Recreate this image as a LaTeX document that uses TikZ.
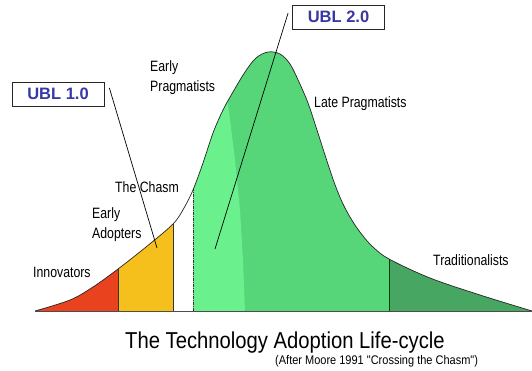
\documentclass[tikz,border=0pt]{standalone}
\usepackage{xcolor}
\usepackage{fontspec}
\setmainfont{Liberation Sans}
\newfontfamily\chartfont{Liberation Sans}[FakeStretch=0.82]
\newfontfamily\titlefont{Liberation Sans}[FakeStretch=0.88]
\usepackage{tikz}
\usetikzlibrary{calc}
\usetikzlibrary{positioning}

\definecolor{innored}{HTML}{E8421E}
\definecolor{adoptyellow}{HTML}{F6C01C}
\definecolor{chasmgreen}{HTML}{6AF08C}
\definecolor{pragreen}{HTML}{56D679}
\definecolor{tradgreen}{HTML}{46A662}
\definecolor{ublblue}{HTML}{3838A2}

\newcommand{\bellcurve}{plot [smooth, tension=0.55] coordinates {(35,311) (70,300) (93,287) (118,269) (146,247) (173,224) (184,208) (193,190) (203,163) (213,133) (223,110) (233,92) (245,72) (256,58) (268,52) (280,54) (290,64) (299,82) (308,103) (316,127) (325,155) (334,182) (343,204) (353,222) (363,236) (373,247) (389,259) (430,278) (480,295) (532,311)}}

\begin{document}
\begin{tikzpicture}[x=1pt, y=-1pt,
  lbl/.style={inner sep=0, align=left, font=\chartfont\fontsize{15}{20}\selectfont},
  ublbox/.style={rectangle, draw=black!85, line width=0.8pt, fill=white, minimum width=92pt, minimum height=24pt, inner sep=0, text=ublblue, font=\bfseries\fontsize{16.5}{18}\selectfont}]
\useasboundingbox (0,0) rectangle (532,371);

% filled areas under the curve
\begin{scope}
\clip \bellcurve -- cycle;
\fill [innored] (35,0) rectangle (118,311);
\fill [adoptyellow] (118,0) rectangle (173,311);
\fill [pragreen] (193,0) rectangle (389,311);
\fill [chasmgreen] (193,311) -- (245,311) -- (243,260) -- (240,210) -- (235,160) -- (230,120) -- (227,95) -- (227,60) -- (193,60) -- cycle;
\fill [tradgreen] (389,0) rectangle (532,311);
\draw [black!80, line width=0.6pt] (118,311) -- (118,200);
\draw [black!80, line width=0.6pt] (173,311) -- (173,150);
\draw [black!80, line width=0.7pt, dash pattern=on 3pt off 1pt on 1pt off 1pt] (193,311) -- (193,100);
\draw [green!25!black, line width=0.6pt] (389,311) -- (389,200);
\end{scope}
\draw [black!85, line width=0.7pt] \bellcurve;
\draw [black!70, line width=0.8pt] (35,311) -- (532,311);

\node [lbl, anchor=north west] (EP) at (150,60) {Early\\Pragmatists};
\node [lbl, anchor=base west] (LP) at (314,108) {Late Pragmatists};
\node [lbl, anchor=base west] (CH) at (115,193) {The Chasm};
\node [lbl, anchor=north west] (EA) at (92,207) {Early\\Adopters};
\node [lbl, anchor=base west] (IN) at (33,277) {Innovators};
\node [lbl, anchor=base west] (TR) at (433,265) {Traditionalists};
\node [inner sep=0, anchor=base, font=\titlefont\fontsize{23}{26}\selectfont] (TT) at (285,348) {The Technology Adoption Life-cycle};
\node [inner sep=0, anchor=base west, font=\titlefont\fontsize{12.5}{14}\selectfont] (ST) at (275,364) {(After Moore 1991 "Crossing the Chasm")};

\node [ublbox] (U1) at (58,94) {UBL 1.0};
\node [ublbox] (U2) at (338.5,17) {UBL 2.0};
\coordinate (E1) at (157,248);
\coordinate (E2) at (215,249);
\draw [black, line width=0.7pt] ($(U1.east)+(5,-6)$) to (E1);
\draw [black, line width=0.7pt] ($(U2.west)+(-4,-4)$) to (E2);
\end{tikzpicture}
\end{document}
